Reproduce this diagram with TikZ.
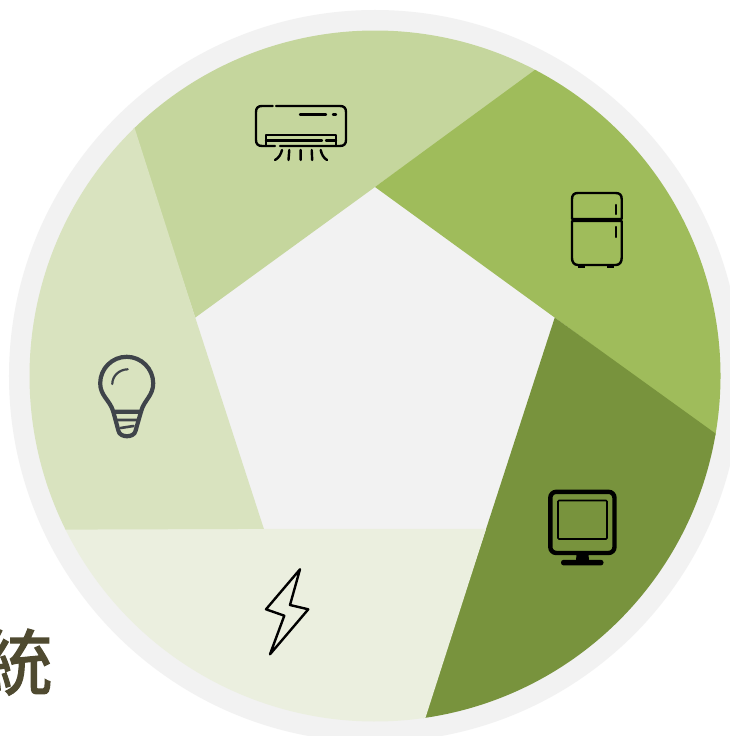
\documentclass[tikz,border=0pt]{standalone}
\usepackage{fontspec}
\newfontfamily\cjk[FakeBold=1.6]{Noto Sans CJK TC}
\definecolor{ringgray}{HTML}{F2F2F2}
\definecolor{acgreen}{HTML}{C5D69D}
\definecolor{fridgegreen}{HTML}{9FBC5B}
\definecolor{tvgreen}{HTML}{78933D}
\definecolor{boltgreen}{HTML}{EBEFDF}
\definecolor{bulbgreen}{HTML}{D9E3BF}
\definecolor{bulbgray}{HTML}{3F444A}
\definecolor{titlebrown}{HTML}{4F4A30}
\tikzset{
  icon/.style={draw=black, line width=2.4pt, line join=round, line cap=round},
  bulbline/.style={draw=bulbgray, line width=4.2pt, line join=round, line cap=round},
}
\begin{document}
\begin{tikzpicture}[x=1pt,y=1pt]
\useasboundingbox (-375,-360) rectangle (355,376);
\clip (-375,-360) rectangle (355,376);
\fill[white] (-375,-360) rectangle (355,376);
\fill[ringgray] (0,0) circle (366);
\foreach \ang/\col in {90/acgreen, 18/fridgegreen, -54/tvgreen, -126/boltgreen, 162/bulbgreen} {
  \fill[\col] (\ang:189) -- (\ang-27.9:345.5) arc[start angle=\ang-27.9, end angle=\ang+44.4, radius=345.5] -- (\ang+72:189) -- cycle;
}
\node[text=titlebrown, font=\cjk\fontsize{72}{72}\selectfont, anchor=east, inner sep=0pt] (tong) at (-322,-286) {統};
\begin{scope}[y=-1pt, shift={(-375pt,376pt)}]
% air conditioner
\draw[icon] (272.7,106) -- (262,106) .. controls (258,106) and (256,108) .. (256,112) -- (256,140) .. controls (256,144) and (258,146) .. (262,146) -- (275,146);
\draw[icon] (280,146) -- (340,146) .. controls (344,146) and (346,144) .. (346,140) -- (346,112) .. controls (346,108) and (344,106) .. (340,106) -- (276,106);
\draw[icon] (266,146) -- (266,135) -- (336,135) -- (336,146);
\draw[icon] (266,140.5) -- (322,140.5) (326,140.5) -- (336,140.5);
\draw[icon] (300,114.7) -- (326,114.7) (333,114.7) -- (336,114.7);
\draw[icon] (282,150) .. controls (281,154) and (279,158) .. (275,160);
\draw[icon] (289.3,150) -- (288.5,160) (300.7,150) -- (300.7,160) (311.7,150) -- (312.2,160);
\draw[icon] (320.7,150) .. controls (321.5,154) and (323.5,158) .. (327,160);
% fridge
\draw[icon] (572,219) -- (572,199) .. controls (572,195) and (574,193) .. (578,193) -- (615.7,193) .. controls (619.7,193) and (621.7,195) .. (621.7,199) -- (621.7,219) -- cycle;
\draw[icon] (572,221) -- (621.7,221) -- (621.7,258) .. controls (621.7,262) and (619.7,265) .. (615.7,265) -- (578,265) .. controls (574,265) and (572,262) .. (572,258) -- cycle;
\fill (578,264) rectangle (585,268.5);
\fill (607,264) rectangle (614,268.5);
\draw[icon] (615.7,205) -- (615.7,214) (615.7,227) -- (615.7,237);
% monitor
\draw[line width=4.4pt, rounded corners=6pt] (550.3,491.8) rectangle (614.5,553);
\draw[line width=1.6pt, rounded corners=1pt] (558,500.5) rectangle (607,539);
\fill (576.7,553) -- (588.3,553) -- (589,560) -- (576,560) -- cycle;
\fill[rounded corners=2.6pt] (561,559.8) rectangle (603.5,565.4);
% bolt
\draw[icon] (300,569.3) -- (266,609.3) -- (284.3,615.7) -- (270,654.3) -- (308.3,609.3) -- (290,605) -- cycle;
% bulb
\draw[bulbline] (113.3,411.7) .. controls (110,400) and (100.2,396) .. (100.2,383.3) .. controls (100.2,368.7) and (112,356.8) .. (126.7,356.8) .. controls (141.3,356.8) and (153.2,368.7) .. (153.2,383.3) .. controls (153.2,396) and (144,400) .. (141,411.7) -- cycle;
\draw[bulbline] (113.3,411.7) -- (118.5,431) .. controls (120,438) and (134,438) .. (135.5,431) -- (141,411.7);
\draw[bulbline, line width=2.6pt] (117.3,420) -- (137.5,420) (120.7,428) -- (133.5,426);
\draw[bulbline, line width=2.2pt] (112.3,384) .. controls (112.3,376) and (119,369.5) .. (127.7,369.3);
\end{scope}
\end{tikzpicture}
\end{document}
